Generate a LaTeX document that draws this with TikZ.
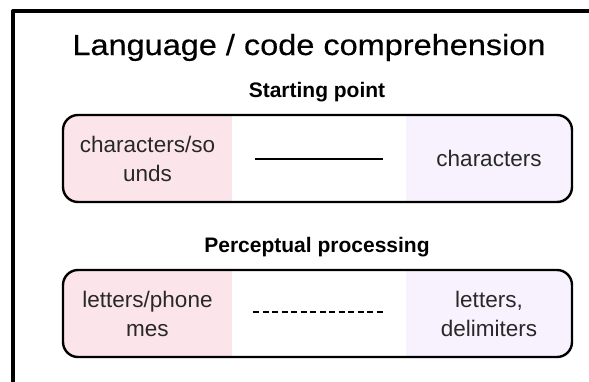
\documentclass[tikz,border=0pt]{standalone}
\usepackage{fontspec}
\setmainfont{Liberation Sans}
\newfontfamily\titlefont[FakeStretch=1.12,FakeBold=0.4]{Liberation Sans}
\usetikzlibrary{positioning}
\definecolor{cellpink}{RGB}{252,229,234}
\definecolor{celllilac}{RGB}{247,242,253}
\definecolor{celltext}{RGB}{40,40,40}

\begin{document}
\begin{tikzpicture}[x=1pt, y=-1pt, line join=round, line cap=round,
		panel/.style={draw=black, line width=2.4pt, rounded corners=15pt},
		celltxt/.style={align=center, text=celltext, font=\fontsize{22.5}{29}\selectfont},
		heading/.style={anchor=base, font=\bfseries\fontsize{21}{25}\selectfont},
		link/.style={line width=2.5pt, line cap=butt},
		dashlink/.style={line width=2.2pt, line cap=butt, dash pattern=on 6pt off 3.5pt}]
			\useasboundingbox (0,0) rectangle (589,381);
			% outer frame, cut by the page
			\begin{scope}
				\clip (0,0) rectangle (589,381);
				\draw[line width=4pt] (13,11) rectangle (621,420);
			\end{scope}
			\node[anchor=base, font=\titlefont\fontsize{29}{34}\selectfont] (title) at (309,55) {Language / code comprehension};
			% starting point
			\node[heading] (start) at (317,97) {Starting point};
			\begin{scope}
				\clip[rounded corners=15pt] (63,115) rectangle (572,202);
				\fill[cellpink] (63,115) rectangle (232,202);
				\fill[celllilac] (406,115) rectangle (572,202);
			\end{scope}
			\draw[panel] (63,115) rectangle (572,202);
			\node[celltxt] (sounds) at (147.5,158.5) {characters/so\\unds};
			\node[celltxt] (chars) at (489,158.5) {characters};
			\coordinate (s1) at (255,159);
			\coordinate (s2) at (383,159);
			\draw[link] (s1) -- (s2);
			% perceptual processing
			\node[heading] (percept) at (317,252) {Perceptual processing};
			\begin{scope}
				\clip[rounded corners=15pt] (63,270) rectangle (572,357);
				\fill[cellpink] (63,270) rectangle (232,357);
				\fill[celllilac] (406,270) rectangle (572,357);
			\end{scope}
			\draw[panel] (63,270) rectangle (572,357);
			\node[celltxt] (phonemes) at (147.5,313.5) {letters/phone\\mes};
			\node[celltxt] (delims) at (489,313.5) {letters,\\delimiters};
			\coordinate (p1) at (253,312);
			\coordinate (p2) at (384,312);
			\draw[dashlink] (p1) -- (p2);
		\end{tikzpicture}
\end{document}
